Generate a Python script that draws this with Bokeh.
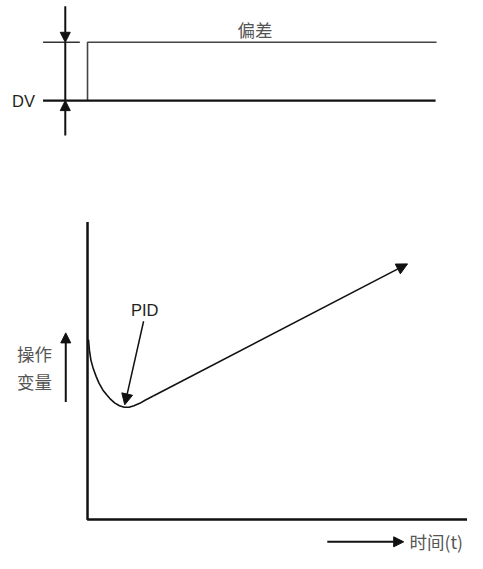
from bokeh.plotting import figure
from bokeh.models import Range1d, Arrow, NormalHead, ColumnDataSource
from bokeh.core.properties import value
from bokeh.embed import file_html
from bokeh.resources import INLINE

# ---- data (diagram units: reference pixel space, y downward) ----
canvas_w = 483
canvas_h = 569

# upper panel: deviation step
dv_step_t = [90, 90, 451]
dv_step_v = [103, 43, 43]
dv_base_t = [44, 450]
dv_base_v = [103, 103]
dv_tick_t = [44, 82]
dv_tick_v = [43, 43]
dv_bar_t = [67, 67]
dv_bar_v = [43, 103]

# lower panel: axes
axis_t = [90, 90, 483]
axis_v = [228, 534, 534]

# manipulated value curve (PID response)
mv_t = [91, 92, 93.5, 96, 99, 102, 106, 110, 114, 118, 123, 128, 133, 138, 144, 150, 158]
mv_v = [349, 360, 370, 379, 387, 394, 401, 406, 410.5, 414, 417, 418.5, 418.5, 417, 414.5, 411, 407]
mv_end_t = 421
mv_end_v = 271

# arrows: start/end
arr_x0 = [67, 67, 67.5, 338]
arr_y0 = [6, 139, 413, 557]
arr_x1 = [67, 67, 67.5, 417]
arr_y1 = [43, 103, 342, 557]
pid_arrow = dict(x0=148, y0=330, x1=128.5, y1=416)

labels = ["DV", "PID"]
labels_x = [12, 135]
labels_y = [103, 318]
cjk_labels = ["偏差", "操作", "变量", "时间(t)"]
cjk_x = [245, 17, 17, 423]
cjk_y = [30, 363, 392, 557]

# ---- figure ----
p = figure(width=467, height=553, output_backend="svg", toolbar_location=None,
           x_range=Range1d(0, canvas_w), y_range=Range1d(canvas_h, 0),
           min_border=0)
p.axis.visible = False
p.grid.visible = False
p.outline_line_color = None
p.background_fill_color = "white"

# upper panel
p.line(dv_step_t, dv_step_v, line_color="#444444", line_width=1.6)
p.line(dv_base_t, dv_base_v, line_color="#111111", line_width=2.2)
p.line(dv_tick_t, dv_tick_v, line_color="#333333", line_width=1.5)
p.line(dv_bar_t, dv_bar_v, line_color="#111111", line_width=2)

# lower panel axes
p.line(axis_t, axis_v, line_color="#111111", line_width=2.5)

# curve
p.line(mv_t, mv_v, line_color="#111111", line_width=1.6)
p.add_layout(Arrow(end=NormalHead(size=11, fill_color="#111111", line_color="#111111"),
                   x_start=mv_t[-1], y_start=mv_v[-1], x_end=mv_end_t, y_end=mv_end_v,
                   line_color="#111111", line_width=1.6))

# plain arrows
src = ColumnDataSource(dict(x0=arr_x0, y0=arr_y0, x1=arr_x1, y1=arr_y1))
p.add_layout(Arrow(end=NormalHead(size=10, fill_color="#111111", line_color="#111111"),
                   x_start="x0", y_start="y0", x_end="x1", y_end="y1", source=src,
                   line_color="#111111", line_width=2))

# PID pointer
p.add_layout(Arrow(end=NormalHead(size=11, fill_color="#111111", line_color="#111111"),
                   x_start=pid_arrow["x0"], y_start=pid_arrow["y0"],
                   x_end=pid_arrow["x1"], y_end=pid_arrow["y1"],
                   line_color="#111111", line_width=1.5))

# texts
p.text(x=labels_x, y=labels_y, text=labels, text_font=value("Liberation Sans"),
       text_font_size="16.5px", text_color="#231f20", text_align="left", text_baseline="middle")
p.text(x=cjk_x, y=cjk_y, text=cjk_labels, text_font=value("Noto Sans CJK SC"),
       text_font_size="17.5px", text_color="#555555", text_align="left", text_baseline="middle")

open("out.html", "w").write(file_html(p, INLINE))
